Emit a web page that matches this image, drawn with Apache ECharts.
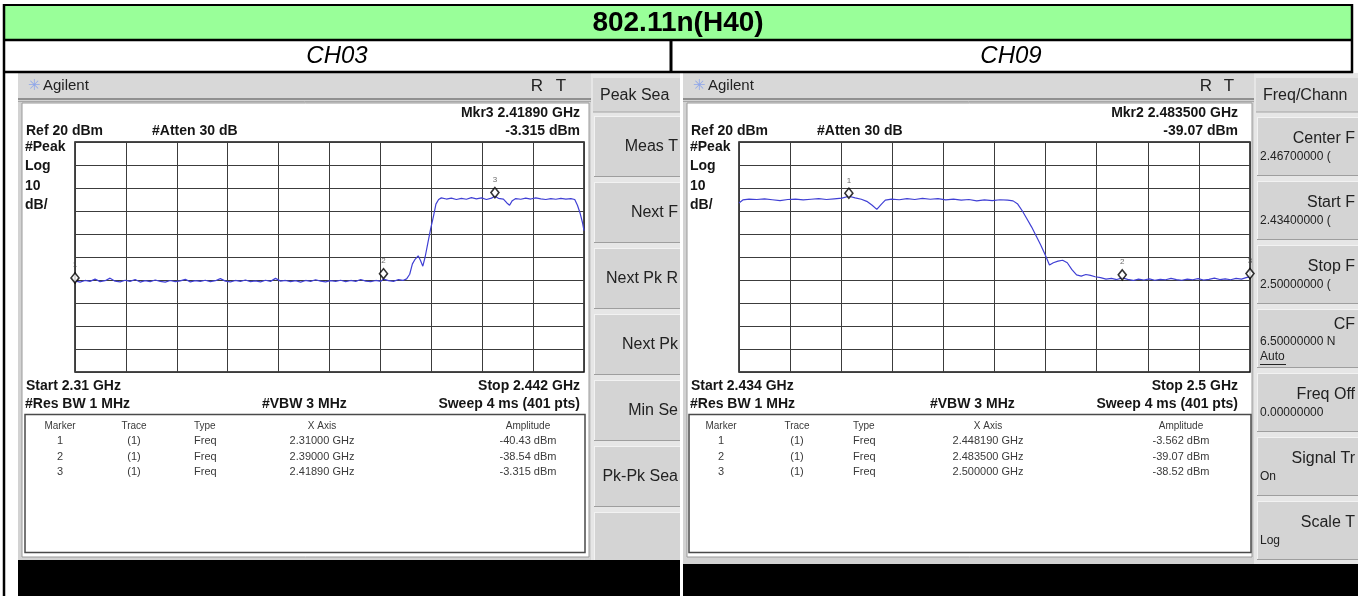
<!DOCTYPE html>
<html>
<head>
<meta charset="utf-8">
<title>802.11n(H40)</title>
<script src="https://cdn.jsdelivr.net/npm/echarts@6/dist/echarts.min.js"></script>
<style>
  html, body { margin: 0; padding: 0; background: #fff; }
  #main { width: 1358px; height: 596px; }
</style>
</head>
<body>
<div id="main"></div>
<script>
var pageTitle = '802.11n(H40)';
var channels = ['CH03', 'CH09'];

// CH03 trace [MHz, dBm], span 2310 - 2442 MHz
var ch03Span = [2310, 2442];
var ch03Trace = [
  [2310.0, -40.4], [2311.3, -40.9], [2312.6, -40.2], [2313.9, -40.6], [2315.2, -39.6], [2316.5, -40.7],
  [2317.8, -40.3], [2319.1, -39.2], [2320.4, -40.5], [2321.7, -40.8], [2323.0, -40.1], [2324.3, -40.6],
  [2325.6, -39.8], [2326.9, -40.9], [2328.2, -40.3], [2329.5, -40.7], [2330.8, -40.0], [2332.1, -40.6],
  [2333.4, -40.9], [2334.7, -40.2], [2336.0, -40.7], [2337.3, -40.4], [2338.6, -39.7], [2339.9, -40.8],
  [2341.2, -40.3], [2342.5, -40.6], [2343.8, -40.1], [2345.1, -40.7], [2346.4, -40.3], [2347.7, -39.4],
  [2349.0, -40.5], [2350.3, -40.8], [2351.6, -40.2], [2352.9, -40.6], [2354.2, -40.0], [2355.5, -40.7],
  [2356.8, -40.4], [2358.1, -40.8], [2359.4, -40.1], [2360.7, -40.6], [2362.0, -39.3], [2363.3, -40.5],
  [2364.6, -40.2], [2365.9, -40.7], [2367.2, -40.3], [2368.5, -40.9], [2369.8, -40.2], [2371.1, -40.6],
  [2372.4, -39.9], [2373.7, -40.5], [2375.0, -40.8], [2376.3, -40.3], [2377.6, -40.6], [2378.9, -40.1],
  [2380.2, -40.7], [2381.5, -40.2], [2382.8, -40.6], [2384.1, -39.8], [2385.4, -40.5], [2386.7, -40.7],
  [2388.0, -40.2], [2389.3, -40.6], [2390.0, -39.6], [2391.3, -40.3], [2392.6, -40.6], [2393.9, -39.8],
  [2395.0, -40.2], [2396.0, -39.5], [2396.8, -37.5], [2397.5, -33.0], [2398.2, -31.0], [2399.0, -29.5],
  [2399.6, -31.5], [2400.2, -34.0], [2400.8, -30.0], [2401.5, -24.0], [2402.2, -18.0], [2403.0, -12.0],
  [2403.6, -7.0], [2404.3, -5.0], [2405.0, -4.3], [2406.3, -4.8], [2407.6, -4.4], [2408.9, -5.0],
  [2410.2, -4.5], [2411.5, -4.9], [2412.8, -4.2], [2414.1, -4.7], [2415.4, -4.3], [2416.7, -5.0],
  [2418.0, -4.4], [2418.9, -3.6], [2419.8, -4.5], [2421.1, -4.8], [2422.0, -6.5], [2422.7, -7.5],
  [2423.4, -5.5], [2424.3, -4.6], [2425.6, -4.9], [2426.9, -4.4], [2428.2, -4.8], [2429.5, -4.3],
  [2430.8, -4.7], [2432.1, -5.0], [2433.4, -4.6], [2434.7, -4.9], [2436.0, -4.5], [2437.3, -4.8],
  [2438.6, -4.6], [2439.6, -5.0], [2440.3, -7.5], [2441.0, -11.0], [2441.6, -15.0], [2442.0, -18.5]
];
var ch03Markers = [[2310.0, -40.43], [2390.0, -38.54], [2418.9, -3.315]];

// CH09 trace [MHz, dBm], span 2434 - 2500 MHz
var ch09Span = [2434, 2500];
var ch09Trace = [
  [2434.0, -6.5], [2434.5, -5.2], [2435.3, -4.8], [2436.3, -5.0], [2437.3, -4.7], [2438.3, -5.1],
  [2439.3, -5.5], [2440.3, -5.0], [2441.3, -4.8], [2442.3, -5.2], [2443.3, -4.9], [2444.3, -4.6],
  [2445.3, -5.0], [2446.3, -4.7], [2447.3, -4.4], [2448.2, -3.6], [2449.0, -4.3], [2449.8, -4.9],
  [2450.5, -5.8], [2451.2, -7.5], [2451.8, -9.3], [2452.4, -7.0], [2452.9, -5.3], [2453.7, -4.8],
  [2454.7, -5.1], [2455.7, -4.6], [2456.7, -5.0], [2457.7, -4.5], [2458.7, -4.9], [2459.7, -4.6],
  [2460.7, -5.2], [2461.7, -4.8], [2462.7, -5.3], [2463.7, -5.0], [2464.7, -5.6], [2465.7, -5.2],
  [2466.7, -5.5], [2467.7, -5.1], [2468.7, -5.3], [2469.4, -5.6], [2470.0, -7.0], [2470.6, -10.0],
  [2471.2, -13.5], [2471.8, -17.0], [2472.4, -21.0], [2473.0, -25.0], [2473.6, -29.5], [2474.1, -33.5],
  [2474.6, -32.5], [2475.2, -31.8], [2475.8, -31.4], [2476.4, -32.5], [2477.0, -35.5], [2477.6, -37.8],
  [2478.2, -38.3], [2478.8, -37.6], [2479.4, -38.0], [2480.0, -38.6], [2480.7, -39.0], [2481.4, -39.6],
  [2482.1, -39.3], [2482.8, -39.8], [2483.5, -39.1], [2484.2, -39.7], [2484.9, -40.2], [2485.6, -39.6],
  [2486.3, -40.0], [2487.0, -39.5], [2487.7, -40.1], [2488.4, -39.7], [2489.1, -39.9], [2489.8, -39.3],
  [2490.5, -39.8], [2491.2, -40.1], [2491.9, -39.6], [2492.6, -39.9], [2493.3, -39.4], [2494.0, -40.0],
  [2494.7, -39.7], [2495.4, -39.2], [2496.1, -39.8], [2496.8, -39.5], [2497.5, -39.9], [2498.2, -39.3],
  [2498.9, -39.6], [2499.5, -39.0], [2500.0, -38.5]
];
var ch09Markers = [[2448.19, -3.562], [2483.5, -39.07], [2500.0, -38.52]];

// amplitude scale: Ref 20 dBm, 10 dB/div, 10 divisions
var ampRange = [-80, 20];
var ampStep = 10;
var divCount = 10;

// header texts on each screen
var ch03Head = ['Mkr3 2.41890 GHz', 'Ref 20 dBm', '#Atten 30 dB', '-3.315 dBm', 'Start 2.31 GHz', 'Stop 2.442 GHz'];
var ch09Head = ['Mkr2 2.483500 GHz', 'Ref 20 dBm', '#Atten 30 dB', '-39.07 dBm', 'Start 2.434 GHz', 'Stop 2.5 GHz'];
var scaleLabels = ['#Peak', 'Log', '10', 'dB/'];
var bwLabels = ['#Res BW 1 MHz', '#VBW 3 MHz', 'Sweep 4 ms (401 pts)'];
var tableHead = ['Marker', 'Trace', 'Type', 'X Axis', 'Amplitude'];
var ch03Table = [
  ['1', "(1)", 'Freq', '2.31000 GHz', '-40.43 dBm'],
  ['2', "(1)", 'Freq', '2.39000 GHz', '-38.54 dBm'],
  ['3', "(1)", 'Freq', '2.41890 GHz', '-3.315 dBm']
];
var ch09Table = [
  ['1', '(1)', 'Freq', '2.448190 GHz', '-3.562 dBm'],
  ['2', '(1)', 'Freq', '2.483500 GHz', '-39.07 dBm'],
  ['3', '(1)', 'Freq', '2.500000 GHz', '-38.52 dBm']
];
var ch03Keys = [['Meas T'], ['Next F'], ['Next Pk R'], ['Next Pk'], ['Min Se'], ['Pk-Pk Sea'], ['']];
var ch09Keys = [
  ['Center F', '2.46700000 ('], ['Start F', '2.43400000 ('], ['Stop F', '2.50000000 ('],
  ['CF', '6.50000000 N', 'Auto'], ['Freq Off', '0.00000000'], ['Signal Tr', 'On'], ['Scale T', 'Log']
];

// ---- drawing ----
var FONT = '"Liberation Sans", Arial, Helvetica, sans-serif';
var els = [];
function rect(x, y, w, h, fill, z, stroke, lw) {
  els.push({ type: 'rect', silent: true, z: z, shape: { x: x, y: y, width: w, height: h },
    style: { fill: fill, stroke: stroke || null, lineWidth: lw || 0 } });
}
function line(x1, y1, x2, y2, color, lw, z) {
  els.push({ type: 'line', silent: true, z: z, shape: { x1: x1, y1: y1, x2: x2, y2: y2 },
    style: { stroke: color, lineWidth: lw } });
}
function text(x, y, str, o) {
  o = o || {};
  var al = o.align || 'left';
  els.push({ type: 'text', silent: true, z: o.z == null ? 10 : o.z, x: x, y: y,
    style: { text: str, fill: o.color || '#111', fontSize: o.size || 14, fontWeight: o.weight || 'normal',
      fontStyle: o.style || 'normal', fontFamily: FONT, textAlign: al, align: al,
      textVerticalAlign: 'middle', verticalAlign: 'middle' } });
}

function analyzer(c, head, table, keys, keyTitle) {
  var z0 = c.z;
  // frame
  rect(c.x0, 73, c.x1 - c.x0, 523, '#d2d2d2', z0);
  rect(c.x0, 73, c.softX - c.x0, 25, '#d8d8d8', z0 + 1);
  line(c.x0, 99, c.softX, 99, '#7a7a7a', 1.5, z0 + 1);
  line(c.x0, 101.5, c.softX, 101.5, '#a8a8a8', 1, z0 + 1);
  text(c.x0 + 10, 86, '\u2733', { size: 15, color: '#8ea6ea', z: z0 + 2 });
  text(c.x0 + 25, 86, 'Agilent', { size: 15, color: '#222', z: z0 + 2 });
  text(c.rX, 86, 'R', { size: 17, color: '#222', align: 'center', z: z0 + 2 });
  text(c.tX, 86, 'T', { size: 17, color: '#222', align: 'center', z: z0 + 2 });
  // white screen panel
  rect(c.x0 + 4, 103, c.softX - c.x0 - 6, 454, '#ffffff', z0 + 1, '#9a9a9a', 1);
  // black status bar
  rect(c.x0, c.barY, c.x1 - c.x0, 596 - c.barY, '#000000', z0 + 3);

  // soft keys
  rect(c.softX, 73, c.x1 - c.softX, c.barY - 73, '#e6e6e6', z0 + 1);
  rect(c.softX + 2, 78, c.x1 - c.softX, 34, '#d6d6d6', z0 + 2);
  line(c.softX + 2, 112, c.x1, 112, '#a4a4a4', 1, z0 + 2);
  text(c.softX + 9, 96, keyTitle, { size: 16, color: '#222', z: z0 + 3 });
  keys.forEach(function (k, i) {
    var top = c.keyTop + i * c.pitch, h = c.pitch - 5;
    rect(c.softX + 3, top, c.x1 - c.softX, h, '#d4d4d4', z0 + 2);
    line(c.softX + 3, top + 0.5, c.x1, top + 0.5, '#f2f2f2', 1, z0 + 2);
    line(c.softX + 3.5, top, c.softX + 3.5, top + h, '#f2f2f2', 1, z0 + 2);
    line(c.softX + 3, top + h - 0.5, c.x1, top + h - 0.5, '#9e9e9e', 1, z0 + 2);
    if (k.length === 1) {
      text(c.keyR, top + h / 2, k[0], { size: 16, color: '#222', align: 'right', z: z0 + 3 });
    } else if (k.length === 2) {
      text(c.keyR, top + 22, k[0], { size: 16, color: '#222', align: 'right', z: z0 + 3 });
      text(c.softX + 6, top + 40, k[1], { size: 12, color: '#222', z: z0 + 3 });
    } else {
      text(c.keyR, top + 16, k[0], { size: 16, color: '#222', align: 'right', z: z0 + 3 });
      text(c.softX + 6, top + 33, k[1], { size: 12, color: '#222', z: z0 + 3 });
      text(c.softX + 6, top + 48, k[2], { size: 12, color: '#222', z: z0 + 3 });
      line(c.softX + 6, top + 55.5, c.softX + 32, top + 55.5, '#222', 1, z0 + 3);
    }
  });

  // screen annotations
  var b = { size: 14, weight: 'bold', color: '#151515', z: z0 + 5 };
  var br = Object.assign({}, b, { align: 'right' });
  text(c.textR, 113, head[0], br);
  text(c.textL, 131, head[1], b);
  text(c.attenX, 131, head[2], b);
  text(c.textR, 131, head[3], br);
  scaleLabels.forEach(function (s, i) { text(c.textL - 1, 147 + i * 19.5, s, b); });
  text(c.textL, 386, head[4], b);
  text(c.textR, 386, head[5], br);
  text(c.textL - 1, 404, bwLabels[0], b);
  text(c.vbwX, 404, bwLabels[1], b);
  text(c.textR, 404, bwLabels[2], br);

  // marker table
  rect(c.tabX0, 414.5, c.tabX1 - c.tabX0, 138, '#ffffff', z0 + 4, '#4a4a4a', 1.5);
  var s = { size: 11, color: '#3a3a3a', z: z0 + 5 };
  var cols = c.cols;
  function row(y, r, sz) {
    text(cols[0], y, r[0], Object.assign({}, s, { align: 'center', size: sz }));
    text(cols[1], y, r[1], Object.assign({}, s, { align: 'center', size: sz }));
    text(cols[2], y, r[2], Object.assign({}, s, { size: sz }));
    text(cols[3], y, r[3], Object.assign({}, s, { align: 'center', size: sz }));
    text(cols[4], y, r[4], Object.assign({}, s, { align: 'center', size: sz }));
  }
  row(426, tableHead, 10);
  table.forEach(function (r, i) { row(441 + i * 15.5, r, 11); });
}

// outer document table
rect(4, 5, 1348, 35, '#99ff99', 20);
rect(4, 40, 1348, 32, '#ffffff', 20);
line(3, 5, 1353, 5, '#000', 2, 21);
line(3, 40, 1353, 40, '#000', 2.5, 21);
line(3, 72, 1353, 72, '#000', 2.5, 21);
line(4, 4, 4, 596, '#000', 2.5, 21);
line(1352, 4, 1352, 73, '#000', 2.5, 21);
line(671, 40, 671, 73, '#000', 3, 21);
text(678, 23, pageTitle, { size: 28, weight: 'bold', color: '#000', align: 'center', z: 22 });
text(337, 56, channels[0], { size: 24, style: 'italic', color: '#000', align: 'center', z: 22 });
text(1011, 56, channels[1], { size: 24, style: 'italic', color: '#000', align: 'center', z: 22 });

// left analyzer (CH03) drawn below, right one (CH09) overlaps its cut edge
analyzer({ z: -40, x0: 18, x1: 720, softX: 591, rX: 537, tX: 561, keyTop: 116, pitch: 66, keyR: 678, barY: 560,
  textL: 26, textR: 580, attenX: 152, vbwX: 262,
  tabX0: 25, tabX1: 585, cols: [60, 134, 194, 322, 528] }, ch03Head, ch03Table, ch03Keys, 'Peak Sea');
rect(680, 73, 3, 523, '#ffffff', -25);
analyzer({ z: -20, x0: 683, x1: 1358, softX: 1254, rX: 1206, tX: 1229, keyTop: 117, pitch: 64, keyR: 1355, barY: 564,
  textL: 691, textR: 1238, attenX: 817, vbwX: 930,
  tabX0: 689, tabX1: 1251, cols: [721, 797, 853, 988, 1181] }, ch09Head, ch09Table, ch09Keys, 'Freq/Chann');

// ---- chart ----
function divAxis(g) {
  return { gridIndex: g, type: 'value', min: 0, max: divCount, interval: 1,
    axisLine: { show: false }, axisTick: { show: false }, axisLabel: { show: false },
    splitLine: { show: true, lineStyle: { color: '#3c3c3c', width: 1 } } };
}
function ampAxis(g) {
  return { gridIndex: g, type: 'value', min: ampRange[0], max: ampRange[1], interval: ampStep,
    axisLine: { show: false }, axisTick: { show: false }, axisLabel: { show: false },
    splitLine: { show: true, lineStyle: { color: '#3c3c3c', width: 1 } } };
}
function markerSeries(data, xi, yi) {
  return { type: 'scatter', xAxisIndex: xi, yAxisIndex: yi, data: data, clip: false, silent: true,
    symbol: 'diamond', symbolSize: [8, 10], symbolOffset: [0, -3], z: 6,
    itemStyle: { color: '#ffffff', borderColor: '#000', borderWidth: 1.6 },
    label: { show: true, position: 'top', distance: 3, fontSize: 8, color: '#444', fontFamily: FONT,
      formatter: function (p) { return String(p.dataIndex + 1); } } };
}
function traceSeries(data, xi, yi) {
  return { type: 'line', xAxisIndex: xi, yAxisIndex: yi, data: data, showSymbol: false, silent: true,
    lineStyle: { color: '#4040d4', width: 1.2 }, z: 5 };
}

var chart = echarts.init(document.getElementById('main'));
chart.setOption({
  animation: false,
  grid: [
    { left: 75, top: 142, width: 509, height: 230, show: true, backgroundColor: '#fff', borderColor: '#111', borderWidth: 1.5 },
    { left: 739, top: 142, width: 511, height: 230, show: true, backgroundColor: '#fff', borderColor: '#111', borderWidth: 1.5 }
  ],
  xAxis: [
    { gridIndex: 0, type: 'value', min: ch03Span[0], max: ch03Span[1], show: false },
    divAxis(0),
    { gridIndex: 1, type: 'value', min: ch09Span[0], max: ch09Span[1], show: false },
    divAxis(1)
  ],
  yAxis: [ampAxis(0), ampAxis(1)],
  graphic: { elements: els },
  series: [
    traceSeries(ch03Trace, 0, 0),
    markerSeries(ch03Markers, 0, 0),
    traceSeries(ch09Trace, 2, 1),
    markerSeries(ch09Markers, 2, 1)
  ]
});
</script>
</body>
</html>
